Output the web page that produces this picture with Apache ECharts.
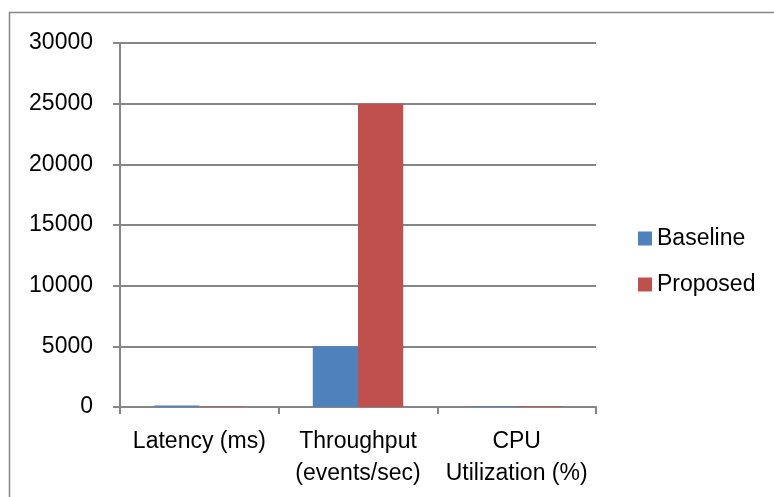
<!DOCTYPE html>
<html><head><meta charset="utf-8">
<script src="https://cdn.jsdelivr.net/npm/echarts@6/dist/echarts.min.js"></script>
<style>html,body{margin:0;padding:0;background:#fff}#c{width:774px;height:497px}</style>
</head><body><div id="c"></div>
<script>
const categories = ["Latency (ms)", "Throughput\n(events/sec)", "CPU\nUtilization (%)"];
const seriesNames = ["Baseline", "Proposed"];
const baseline = [120, 5000, 70];
const proposed = [45, 25000, 60];
const yTicks = [0, 5000, 10000, 15000, 20000, 25000, 30000];

const chart = echarts.init(document.getElementById('c'), null, {renderer: 'canvas'});
const font = 'Liberation Sans';
chart.setOption({
  animation: false,
  backgroundColor: '#fff',
  graphic: [{type: 'rect', shape: {x: 9.5, y: 12.5, width: 800, height: 600}, style: {fill: 'none', stroke: '#868686', lineWidth: 1.5}, silent: true}],
  grid: {left: 120, right: 178, top: 43, bottom: 90, containLabel: false},
  legend: {
    orient: 'vertical', left: 633, top: 222, itemWidth: 14, itemHeight: 14, itemGap: 23,
    icon: 'rect', textStyle: {fontFamily: font, fontSize: 23, color: '#000'},
    data: seriesNames
  },
  xAxis: {
    type: 'category', data: categories,
    axisLine: {lineStyle: {color: '#868686', width: 2}},
    axisTick: {show: true, length: 7, lineStyle: {color: '#868686', width: 2}},
    axisLabel: {color: '#000', fontFamily: font, fontSize: 23, lineHeight: 32, margin: 19, interval: 0}
  },
  yAxis: {
    type: 'value', min: yTicks[0], max: yTicks[yTicks.length - 1], interval: 5000,
    axisLine: {show: true, lineStyle: {color: '#868686', width: 2}},
    axisTick: {show: true, length: 7, lineStyle: {color: '#868686', width: 2}},
    splitLine: {lineStyle: {color: '#868686', width: 2}},
    axisLabel: {color: '#000', fontFamily: font, fontSize: 23, margin: 27, formatter: v => String(v)}
  },
  series: [
    {name: seriesNames[0], type: 'bar', data: baseline, barGap: '0%', barCategoryGap: '43%', itemStyle: {color: '#4F81BD'}},
    {name: seriesNames[1], type: 'bar', data: proposed, itemStyle: {color: '#C0504D'}}
  ]
});
</script></body></html>
